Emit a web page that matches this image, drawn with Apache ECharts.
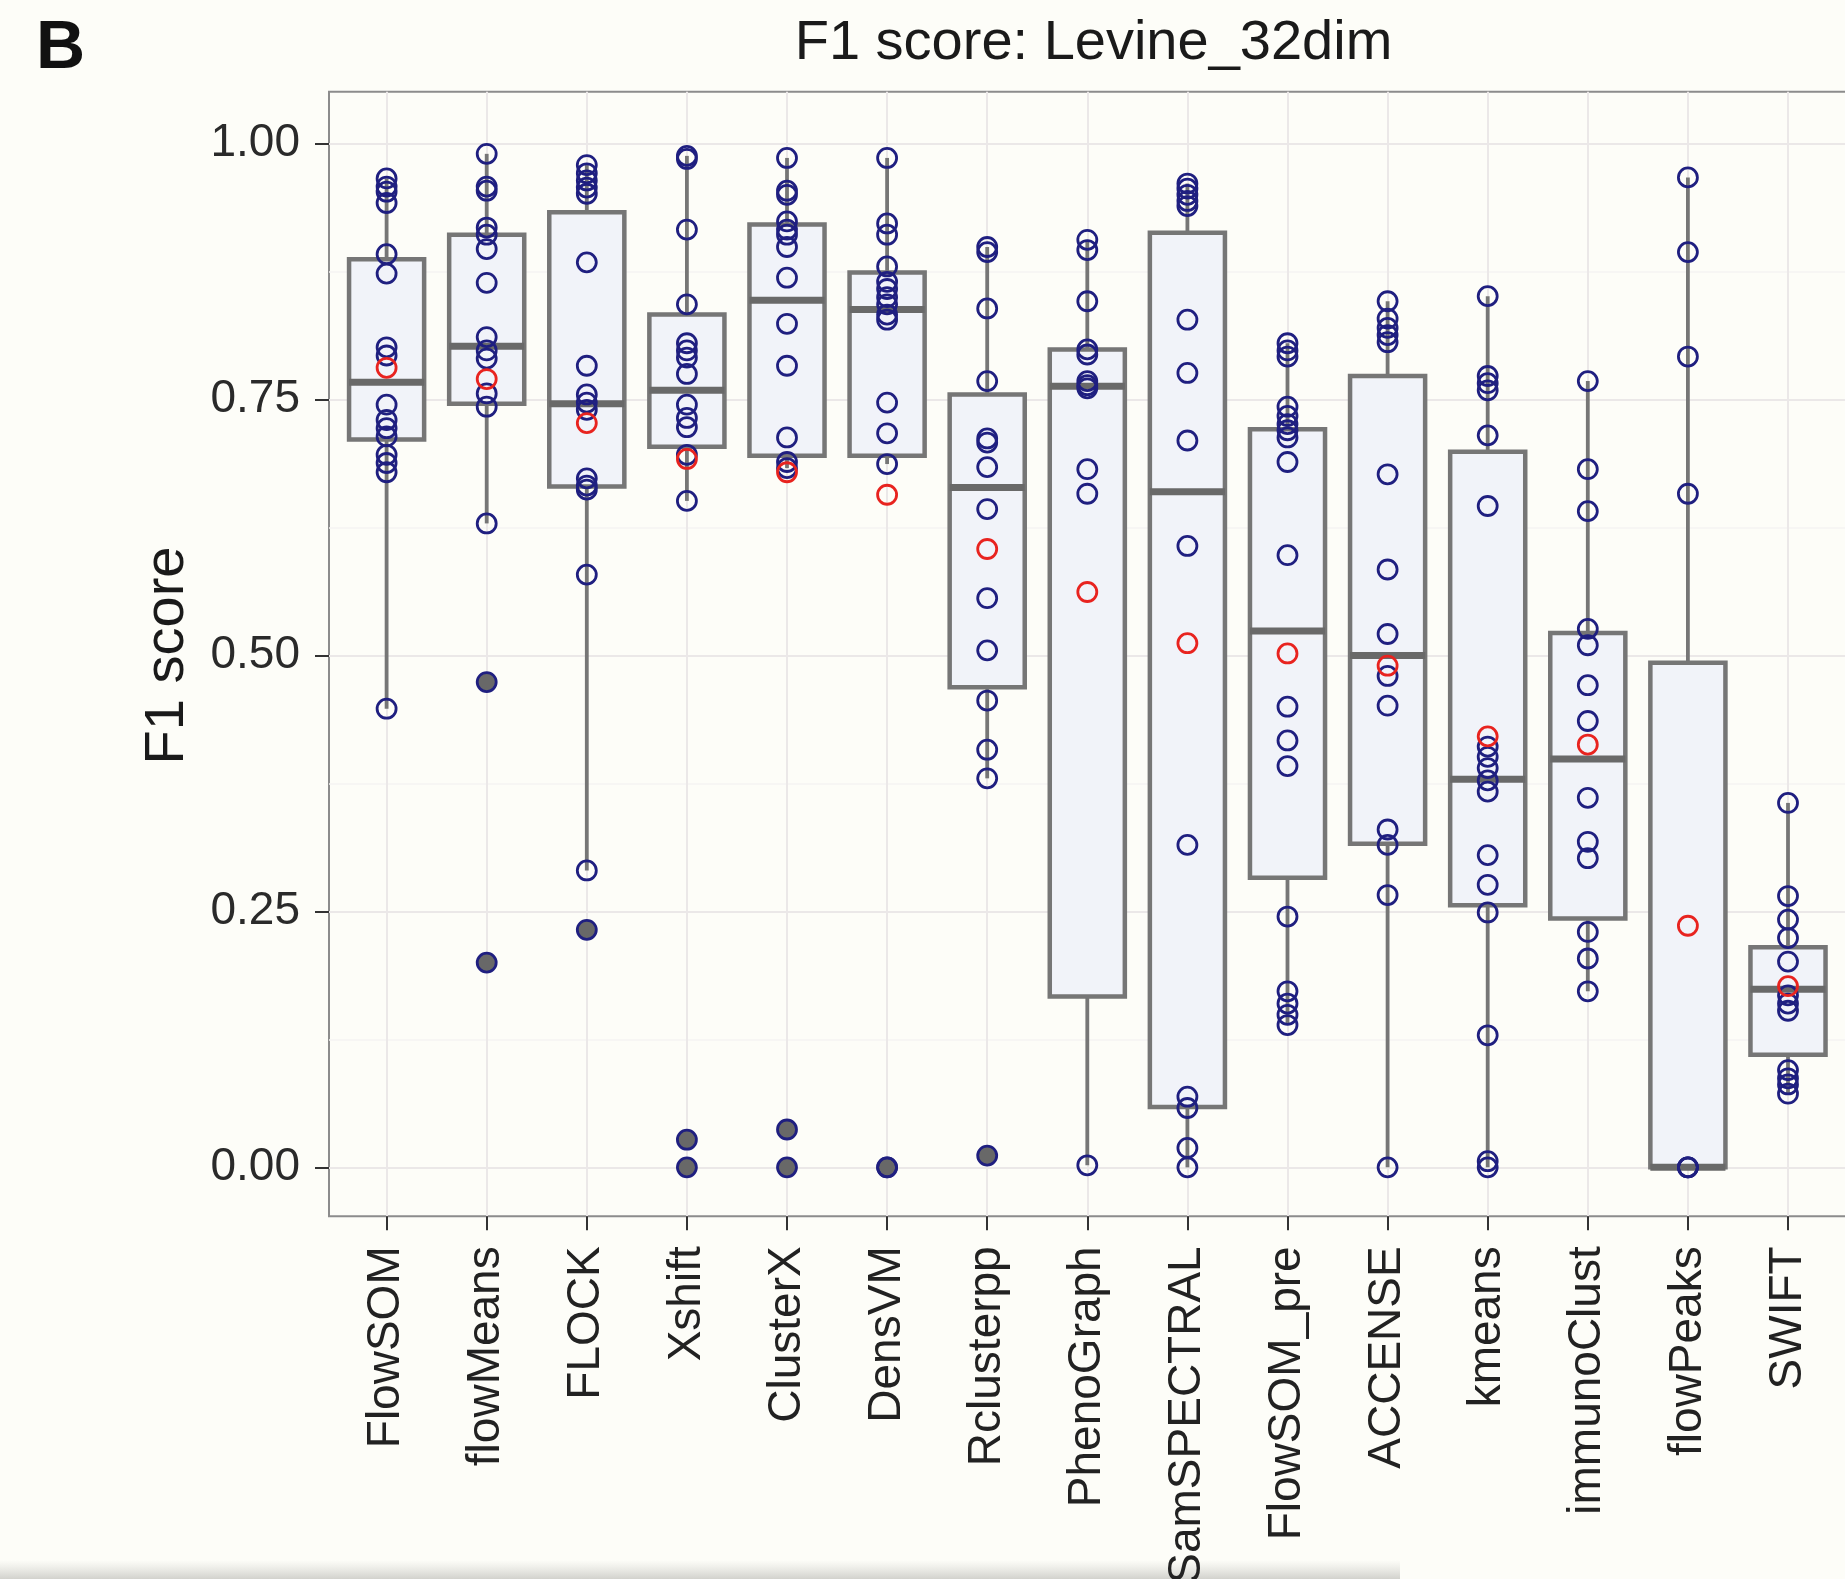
<!DOCTYPE html>
<html>
<head>
<meta charset="utf-8">
<script src="https://cdn.jsdelivr.net/npm/echarts@6/dist/echarts.min.js"></script>
<style>
  html, body { margin: 0; padding: 0; background: #fdfdf8; }
  #chart { width: 1845px; height: 1579px; }
</style>
</head>
<body>
<div id="chart"></div>
<script>
// methods on the x axis
const methods = ['FlowSOM', 'flowMeans', 'FLOCK', 'Xshift', 'ClusterX', 'DensVM', 'Rclusterpp',
  'PhenoGraph', 'SamSPECTRAL', 'FlowSOM_pre', 'ACCENSE', 'kmeans', 'immunoClust', 'flowPeaks', 'SWIFT']

// F1 score per population, one list per method
const f1Points = [
  [0.966, 0.958, 0.953, 0.942, 0.892, 0.873, 0.801, 0.793, 0.745, 0.730, 0.722, 0.714, 0.696, 0.688, 0.679, 0.448],
  [0.990, 0.958, 0.954, 0.918, 0.911, 0.897, 0.864, 0.811, 0.798, 0.790, 0.756, 0.743, 0.629, 0.474, 0.200],
  [0.979, 0.971, 0.964, 0.957, 0.951, 0.884, 0.783, 0.755, 0.747, 0.740, 0.673, 0.666, 0.662, 0.579, 0.290, 0.232],
  [0.988, 0.985, 0.916, 0.843, 0.805, 0.798, 0.791, 0.775, 0.745, 0.732, 0.723, 0.696, 0.651, 0.027, 0.0],
  [0.986, 0.954, 0.950, 0.924, 0.916, 0.911, 0.899, 0.869, 0.824, 0.783, 0.713, 0.689, 0.683, 0.037, 0.0],
  [0.986, 0.922, 0.911, 0.880, 0.865, 0.858, 0.850, 0.843, 0.833, 0.828, 0.747, 0.717, 0.687, 0.0, 0.0],
  [0.899, 0.894, 0.839, 0.768, 0.712, 0.708, 0.684, 0.643, 0.556, 0.505, 0.456, 0.408, 0.380, 0.0115],
  [0.906, 0.896, 0.846, 0.799, 0.794, 0.768, 0.764, 0.761, 0.682, 0.658, 0.002],
  [0.961, 0.956, 0.950, 0.944, 0.939, 0.828, 0.776, 0.710, 0.607, 0.315, 0.069, 0.058, 0.019, 0.0],
  [0.805, 0.798, 0.792, 0.743, 0.734, 0.726, 0.720, 0.713, 0.689, 0.598, 0.450, 0.417, 0.392, 0.245, 0.172, 0.160, 0.149, 0.139],
  [0.846, 0.829, 0.820, 0.813, 0.806, 0.677, 0.584, 0.521, 0.480, 0.451, 0.330, 0.315, 0.266, 0.0],
  [0.851, 0.773, 0.766, 0.759, 0.715, 0.646, 0.411, 0.401, 0.390, 0.378, 0.367, 0.305, 0.276, 0.249, 0.129, 0.006, 0.0],
  [0.768, 0.682, 0.641, 0.526, 0.510, 0.471, 0.436, 0.361, 0.318, 0.302, 0.230, 0.204, 0.172],
  [0.967, 0.894, 0.792, 0.658, 0.0, 0.0, 0.0],
  [0.356, 0.265, 0.242, 0.224, 0.201, 0.168, 0.160, 0.153, 0.095, 0.087, 0.081, 0.072]
]

// mean F1 (red circles)
const meanF1 = [0.781, 0.770, 0.727, 0.692, 0.679, 0.657, 0.604, 0.562, 0.512, 0.502, 0.490, 0.421, 0.413, 0.236, 0.177]

// box statistics
const whiskerLow = [0.448, 0.629, 0.290, 0.651, 0.683, 0.687, 0.380, 0.002, 0.0, 0.139, 0.0, 0.0, 0.172, 0.0, 0.072]
const q1 = [0.711, 0.746, 0.665, 0.704, 0.695, 0.695, 0.469, 0.167, 0.059, 0.283, 0.316, 0.256, 0.243, 0.0, 0.110]
const median = [0.767, 0.802, 0.746, 0.759, 0.847, 0.838, 0.664, 0.763, 0.660, 0.524, 0.500, 0.379, 0.399, 0.0, 0.174]
const q3 = [0.887, 0.911, 0.933, 0.833, 0.921, 0.874, 0.755, 0.799, 0.913, 0.721, 0.773, 0.699, 0.522, 0.493, 0.215]
const whiskerHigh = [0.966, 0.990, 0.979, 0.988, 0.986, 0.986, 0.899, 0.906, 0.961, 0.805, 0.846, 0.851, 0.768, 0.967, 0.356]

const yTickInterval = 0.25

// layout
const FONT = 'Liberation Sans, Arial, Helvetica, sans-serif'
const PANEL = { left: 329, top: 91.8, width: 1519, height: 1124.5 }
const Y_MIN = -0.0478
const Y_MAX = 1.0506
const pxPerUnit = PANEL.height / (Y_MAX - Y_MIN)
const unitGrid = { left: PANEL.left, width: PANEL.width, top: PANEL.top + (Y_MAX - 1) * pxPerUnit, height: pxPerUnit }
const dataGrid = { left: 386.6, width: 1401.4, top: PANEL.top, height: PANEL.height }

const NAVY = '#1f1f80'
const RED = '#e8231f'
const BOX_EDGE = '#767676'
const GRID_MAJOR = '#ebe8e8'
const GRID_MINOR = '#f5f3f2'

const boxData = methods.map((m, i) => [i, whiskerLow[i], q1[i], median[i], q3[i], whiskerHigh[i]])
const pointData = []
const outlierData = []
f1Points.forEach((vals, i) => {
  vals.forEach((v) => {
    pointData.push([i, v])
    if (v < whiskerLow[i] || v > whiskerHigh[i]) outlierData.push([i, v])
  })
})
const meanData = meanF1.map((v, i) => [i, v])

function renderBox(params, api) {
  const x = api.value(0)
  const lo = api.coord([x, api.value(1)])
  const b1 = api.coord([x, api.value(2)])
  const md = api.coord([x, api.value(3)])
  const b3 = api.coord([x, api.value(4)])
  const hi = api.coord([x, api.value(5)])
  const half = api.size([1, 0])[0] * 0.375
  const edge = { stroke: BOX_EDGE, lineWidth: 3.8 }
  return {
    type: 'group',
    children: [
      { type: 'line', shape: { x1: lo[0], y1: lo[1], x2: b1[0], y2: b1[1] }, style: edge },
      { type: 'line', shape: { x1: b3[0], y1: b3[1], x2: hi[0], y2: hi[1] }, style: edge },
      {
        type: 'rect',
        shape: { x: b3[0] - half, y: b3[1], width: half * 2, height: b1[1] - b3[1] },
        style: { fill: '#f1f3f9', stroke: BOX_EDGE, lineWidth: 4.5 },
      },
      {
        type: 'line',
        shape: { x1: md[0] - half, y1: md[1], x2: md[0] + half, y2: md[1] },
        style: { stroke: '#696969', lineWidth: 7 },
      },
    ],
  }
}

const chart = echarts.init(document.getElementById('chart'))
chart.setOption({
  animation: false,
  backgroundColor: '#fdfdf8',
  textStyle: { fontFamily: FONT },
  title: [
    {
      text: 'B', left: 31, top: 10,
      textStyle: { fontFamily: FONT, fontSize: 68, fontWeight: 'bold', color: '#111', lineHeight: 68 },
    },
    {
      text: 'F1 score: Levine_32dim', left: PANEL.left + PANEL.width / 2, top: 11, textAlign: 'center',
      textStyle: { fontFamily: FONT, fontSize: 56, fontWeight: 'normal', color: '#1a1a1a', lineHeight: 56 },
    },
  ],
  grid: [
    Object.assign({}, PANEL, {
      show: true, backgroundColor: '#fdfdf8', borderColor: '#8c8c8c', borderWidth: 2, outerBoundsMode: 'none',
    }),
    Object.assign({}, dataGrid, { outerBoundsMode: 'none' }),
    Object.assign({}, unitGrid, { outerBoundsMode: 'none' }),
  ],
  xAxis: [
    { gridIndex: 0, type: 'value', show: false, min: 0, max: 1 },
    {
      gridIndex: 1,
      type: 'category',
      data: methods,
      boundaryGap: false,
      position: 'bottom',
      axisLine: { show: false, onZero: false },
      axisTick: { show: true, interval: 0, length: 14, lineStyle: { color: '#333', width: 2 } },
      axisLabel: { interval: 0, rotate: 90, margin: 30, fontSize: 46, color: '#222', fontFamily: FONT },
      splitLine: { show: true, interval: 0, lineStyle: { color: GRID_MAJOR, width: 2 } },
    },
    { gridIndex: 2, type: 'value', show: false, min: 0, max: 1 },
  ],
  yAxis: [
    { gridIndex: 0, type: 'value', show: false, min: 0, max: 1 },
    { gridIndex: 1, type: 'value', show: false, min: Y_MIN, max: Y_MAX },
    {
      gridIndex: 2,
      type: 'value',
      min: 0,
      max: 1,
      interval: yTickInterval,
      name: 'F1 score',
      nameLocation: 'middle',
      nameGap: 133,
      nameTextStyle: { fontSize: 56, color: '#1a1a1a', fontFamily: FONT },
      axisLine: { show: false, onZero: false },
      axisTick: { show: true, length: 14, lineStyle: { color: '#333', width: 2 } },
      axisLabel: { margin: 29, fontSize: 46, color: '#2a2a2a', fontFamily: FONT, formatter: (v) => v.toFixed(2) },
      splitLine: { show: true, lineStyle: { color: GRID_MAJOR, width: 2 } },
      minorTick: { show: false, splitNumber: 2 },
      minorSplitLine: { show: true, lineStyle: { color: GRID_MINOR, width: 1.5 } },
    },
  ],
  graphic: [
    {
      // soft page shadow along the bottom edge of the scan
      type: 'rect',
      silent: true,
      z: -10,
      shape: { x: 0, y: 1560, width: 1400, height: 19 },
      style: {
        fill: new echarts.graphic.LinearGradient(0, 0, 0, 1, [
          { offset: 0, color: 'rgba(215,215,210,0)' },
          { offset: 1, color: 'rgba(205,205,200,0.9)' },
        ]),
      },
    },
  ],
  series: [
    {
      type: 'custom',
      xAxisIndex: 1,
      yAxisIndex: 1,
      data: boxData,
      encode: { x: 0, y: [1, 2, 3, 4, 5] },
      renderItem: renderBox,
      z: 2,
    },
    {
      type: 'scatter',
      xAxisIndex: 1,
      yAxisIndex: 1,
      data: outlierData,
      symbolSize: 19,
      itemStyle: { color: '#686868', opacity: 1 },
      z: 3,
    },
    {
      type: 'scatter',
      xAxisIndex: 1,
      yAxisIndex: 1,
      data: pointData,
      symbolSize: 19,
      itemStyle: { color: 'rgba(0,0,0,0)', borderColor: NAVY, borderWidth: 2.8, opacity: 1 },
      z: 4,
    },
    {
      type: 'scatter',
      xAxisIndex: 1,
      yAxisIndex: 1,
      data: meanData,
      symbolSize: 19,
      itemStyle: { color: 'rgba(0,0,0,0)', borderColor: RED, borderWidth: 2.8, opacity: 1 },
      z: 5,
    },
  ],
})
</script>
</body>
</html>
